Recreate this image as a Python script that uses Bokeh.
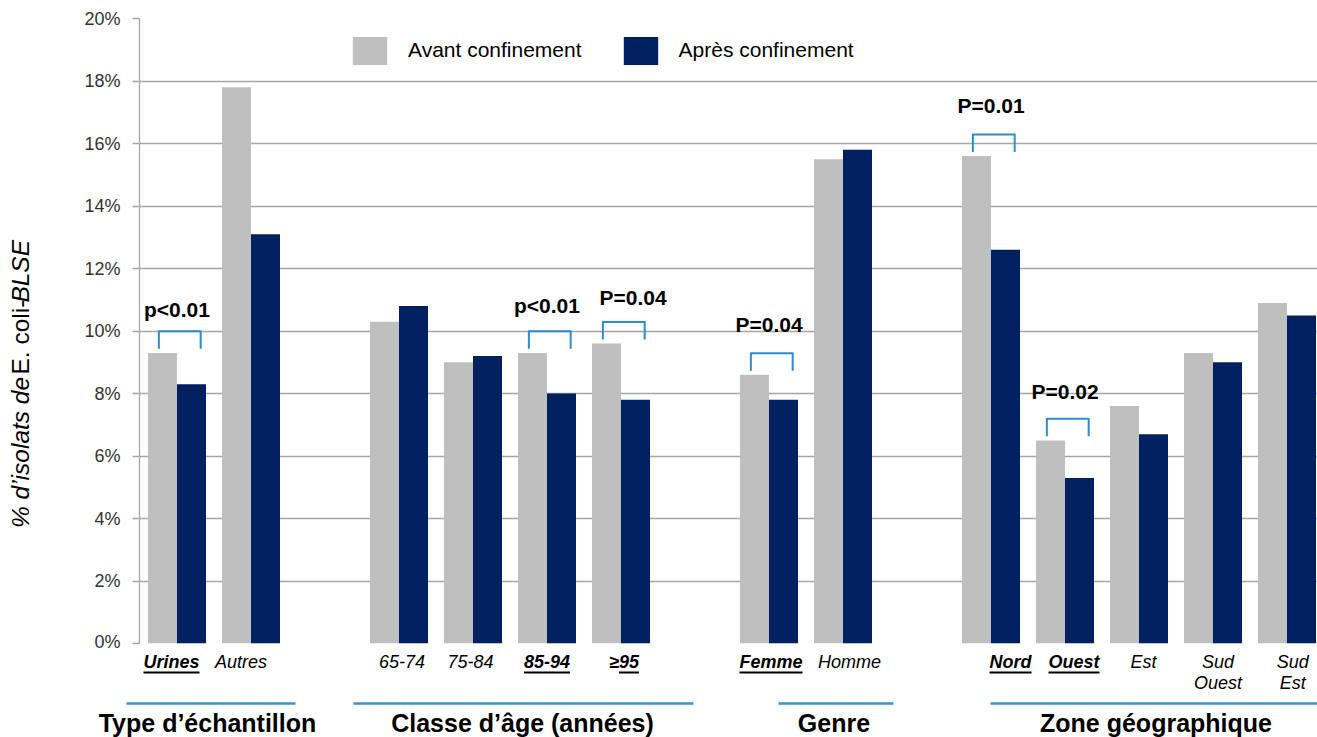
import math
from bokeh.plotting import figure
from bokeh.layouts import column, row
from bokeh.models import ColumnDataSource, Range1d, FixedTicker
from bokeh.core.properties import value
from bokeh.embed import file_html
from bokeh.resources import INLINE

# ---------------- data ----------------
group_names = ["Type d’échantillon", "Classe d’âge (années)", "Genre", "Zone géographique"]
group_sizes = [2, 4, 2, 5]
categories = ["Urines", "Autres", "65-74", "75-84", "85-94", "≥95",
              "Femme", "Homme", "Nord", "Ouest", "Est", "Sud\nOuest", "Sud\nEst"]
avant = [9.3, 17.8, 10.3, 9.0, 9.3, 9.6, 8.6, 15.5, 15.6, 6.5, 7.6, 9.3, 10.9]
apres = [8.3, 13.1, 10.8, 9.2, 8.0, 7.8, 7.8, 15.8, 12.6, 5.3, 6.7, 9.0, 10.5]
highlighted = ["Urines", "85-94", "≥95", "Femme", "Nord", "Ouest"]
p_categories = ["Urines", "85-94", "≥95", "Femme", "Nord", "Ouest"]
p_labels = ["p<0.01", "p<0.01", "P=0.04", "P=0.04", "P=0.01", "P=0.02"]
series_names = ["Avant confinement", "Après confinement"]
y_ticks = [0, 2, 4, 6, 8, 10, 12, 14, 16, 18, 20]
y_tick_labels = ["0%", "2%", "4%", "6%", "8%", "10%", "12%", "14%", "16%", "18%", "20%"]
y_title_parts = ["% d’isolats de", "E. coli-", "BLSE"]
y_title_italic = [True, False, True]

# ---------------- layout / style ----------------
W, H = 1317, 737
FL, FT, FB = 139, 18, 643   # frame left / top / bottom (px)
LW = 60                     # width of the strip holding the y title
SPLIT = 651                 # where the bottom label strip starts
PPX, PPY = 74.0, 31.25      # px per category slot, px per 1 %
X0 = -(176.5 - FL) / PPX
X1 = X0 + (W - FL) / PPX
BL_FIX = 0.35               # baseline correction (em)

def dx(px):
    return X0 + (px - FL) / PPX

def dy(py):
    return 20 - (py - FT) / PPY

GREY = "#BFBFBF"
NAVY = "#002060"
BLUE = "#2E8BD2"
LINE_BLUE = "#3B92D5"
GRID = "#A6A6A6"
FONT = "Liberation Sans"

BOLD_W = {'U': .722, 'r': .389, 'i': .278, 'n': .611, 'e': .556, 's': .556, '8': .556,
          '5': .556, '-': .333, '9': .556, '4': .556, '≥': .549, 'F': .611, 'm': .889,
          'N': .722, 'o': .611, 'd': .611, 'O': .778, 'u': .611, 't': .333}
REG_W = {'%': .889, ' ': .278, 'd': .556, '’': .222, 'i': .222, 's': .5, 'o': .556,
         'l': .222, 'a': .556, 't': .278, 'e': .556, 'E': .667, '.': .278, 'c': .5,
         '-': .333, 'B': .667, 'L': .556, 'S': .667}

# slot positions: one empty slot between groups
pos = []
slot = 0
for n in group_sizes:
    for _ in range(n):
        pos.append(slot)
        slot += 1
    slot += 1


def blank_fig(width, height, xr, yr):
    f = figure(width=width, height=height, output_backend="svg", toolbar_location=None,
               x_range=Range1d(*xr), y_range=Range1d(*yr),
               x_axis_location=None, y_axis_location=None,
               min_border_left=0, min_border_right=0, min_border_top=0, min_border_bottom=0)
    f.outline_line_color = None
    f.grid.visible = False
    f.background_fill_color = "white"
    f.border_fill_color = "white"
    return f


# ---------------- main chart ----------------
p = figure(width=W - LW, height=SPLIT, output_backend="svg", toolbar_location=None,
           x_range=Range1d(X0, X1), y_range=Range1d(0, 20),
           x_axis_location=None, min_border_left=FL - LW, min_border_right=0,
           min_border_top=FT, min_border_bottom=SPLIT - FB)
p.outline_line_color = None
p.background_fill_color = "white"
p.border_fill_color = "white"
p.xgrid.visible = False

ax = p.yaxis[0]
ax.ticker = FixedTicker(ticks=y_ticks)
ax.major_label_overrides = {t: l for t, l in zip(y_ticks, y_tick_labels)}
ax.axis_line_color = GRID
ax.axis_line_width = 1.3
ax.major_tick_line_color = GRID
ax.major_tick_line_width = 1.3
ax.major_tick_out = 7
ax.major_tick_in = 0
ax.minor_tick_line_color = None
ax.major_label_text_font = FONT
ax.major_label_text_font_size = "18px"
ax.major_label_text_color = "#333333"
ax.major_label_standoff = 12
p.ygrid.ticker = FixedTicker(ticks=y_ticks)
p.ygrid.grid_line_color = GRID
p.ygrid.grid_line_width = 1.3

BW = 0.392
src = ColumnDataSource(dict(
    x_av=[q - BW / 2 for q in pos], x_ap=[q + BW / 2 for q in pos],
    avant=avant, apres=apres))
p.vbar(x="x_av", top="avant", bottom=0, width=BW, source=src, fill_color=GREY,
       line_color=None, legend_label=series_names[0])
p.vbar(x="x_ap", top="apres", bottom=0, width=BW, source=src, fill_color=NAVY,
       line_color=None, legend_label=series_names[1])

# significance brackets + p values
pv_shift_px = {"≥95": 12}
pv_gap_px = {"Urines": 14, "85-94": 18, "≥95": 17, "Femme": 21.5, "Nord": 21.5, "Ouest": 19.5}
bx, by, tx, ty = [], [], [], []
for cat in p_categories:
    i = categories.index(cat)
    q = pos[i]
    top = max(avant[i], apres[i]) + 0.69
    bx.append([q - 0.245, q - 0.245, q + 0.32, q + 0.32])
    by.append([top - 0.56, top, top, top - 0.56])
    tx.append(q + pv_shift_px.get(cat, 0) / PPX)
    ty.append(top + (pv_gap_px[cat] + BL_FIX * 21) / PPY)
p.multi_line(xs=bx, ys=by, line_color=BLUE, line_width=2, line_join="round")
p.text(x=tx, y=ty, text=p_labels, text_font=value(FONT), text_font_size="21px",
       text_font_style="bold", text_align="center", text_baseline="alphabetic",
       text_color="black")

# legend
leg = p.legend[0]
leg.orientation = "horizontal"
leg.location = (209, FB - 67.5)
leg.glyph_width = 43
leg.glyph_height = 35
leg.label_standoff = 17
leg.spacing = 37
leg.padding = 0
leg.margin = 0
leg.border_line_color = None
leg.background_fill_alpha = 0
leg.label_text_font = FONT
leg.label_text_font_size = "21px"
leg.label_text_color = "black"

# ---------------- left strip: y title ----------------
left = blank_fig(LW, SPLIT, (dx(0), dx(LW)), (dy(SPLIT), dy(0)))
TF = 24.5
gaps = [REG_W[' '] * TF + 2, 0, 0]
lengths = [sum(REG_W[c] for c in part) * TF + g for part, g in zip(y_title_parts, gaps)]
start = 382 + sum(lengths) / 2
for part, it, L in zip(y_title_parts, y_title_italic, lengths):
    left.text(x=[dx(29 - BL_FIX * TF)], y=[dy(start)], text=[part], angle=math.pi / 2,
              text_align="left", text_baseline="alphabetic", text_font=value(FONT),
              text_font_size=f"{TF}px", text_font_style="italic" if it else "normal",
              text_color="black")
    start -= L

# ---------------- bottom strip: categories and groups ----------------
bot = blank_fig(W, H - SPLIT, (dx(0), X1), (dy(H), dy(SPLIT)))
label_shift_px = [-5.5, -10, 3, -2.5, 0, 3, 2, 6.5, 19.5, 9, 4.5, 5, 5.7]
norm = dict(x=[], y=[], t=[])
bold = dict(x=[], y=[], t=[])
ul_x0, ul_x1, ul_y = [], [], []
for i, cat in enumerate(categories):
    cx = pos[i] + label_shift_px[i] / PPX
    base = 667.5
    for k, part in enumerate(cat.split("\n")):
        d = bold if cat in highlighted else norm
        d["x"].append(cx)
        d["y"].append(dy(base + 21 * k - BL_FIX * 18))
        d["t"].append(part)
    if cat in highlighted:
        wtot = sum(BOLD_W[c] for c in cat) * 18
        lft = cx - wtot / 2 / PPX
        if cat.startswith("≥"):
            lft += BOLD_W["≥"] * 18 / PPX
        ul_x0.append(lft)
        ul_x1.append(cx + wtot / 2 / PPX)
        ul_y.append(dy(672))
bot.text(x=norm["x"], y=norm["y"], text=norm["t"], text_font=value(FONT),
         text_font_size="18px", text_font_style="italic", text_align="center",
         text_baseline="alphabetic", text_color="black")
bot.text(x=bold["x"], y=bold["y"], text=bold["t"], text_font=value(FONT),
         text_font_size="18px", text_font_style="bold italic", text_align="center",
         text_baseline="alphabetic", text_color="black")
bot.segment(x0=ul_x0, y0=ul_y, x1=ul_x1, y1=ul_y, line_color="black", line_width=1.8)

group_line_px = [(126, 295), (353, 693), (778, 893), (990, 1317)]
group_title_px = [207, 522, 833.5, 1155.5]
bot.segment(x0=[dx(a) for a, b in group_line_px], x1=[dx(b) for a, b in group_line_px],
            y0=[dy(703)] * 4, y1=[dy(703)] * 4, line_color=LINE_BLUE, line_width=2.5)
bot.text(x=[dx(c) for c in group_title_px], y=[dy(731 - BL_FIX * 25)] * 4,
         text=group_names, text_font=value(FONT), text_font_size="25px",
         text_font_style="bold", text_align="center", text_baseline="alphabetic",
         text_color="black")

layout = column(row(left, p), bot)
open("out.html", "w", encoding="utf-8").write(file_html(layout, INLINE))
